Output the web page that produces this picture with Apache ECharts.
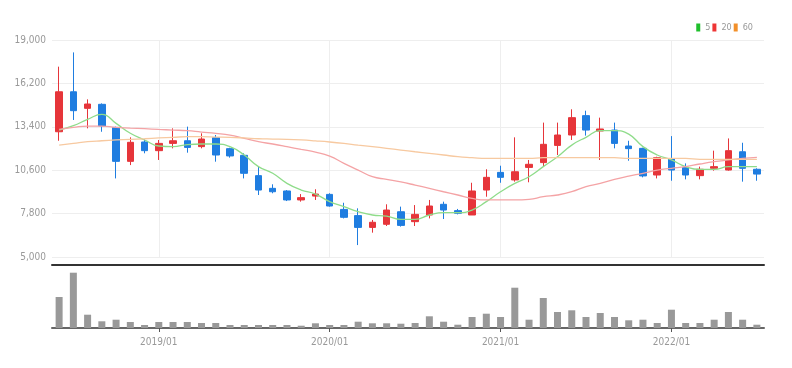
<!DOCTYPE html>
<html>
<head>
<meta charset="utf-8">
<script src="https://cdn.jsdelivr.net/npm/echarts@6/dist/echarts.min.js"></script>
<style>
  html, body { margin: 0; padding: 0; background: #fff; }
  #main { width: 792px; height: 368px; }
</style>
</head>
<body>
<div id="main"></div>
<script>
// monthly candles 2018/06 ~ 2022/07
var months = [
  '2018/06', '2018/07', '2018/08', '2018/09', '2018/10', '2018/11', '2018/12',
  '2019/01', '2019/02', '2019/03', '2019/04', '2019/05', '2019/06', '2019/07', '2019/08', '2019/09', '2019/10', '2019/11', '2019/12',
  '2020/01', '2020/02', '2020/03', '2020/04', '2020/05', '2020/06', '2020/07', '2020/08', '2020/09', '2020/10', '2020/11', '2020/12',
  '2021/01', '2021/02', '2021/03', '2021/04', '2021/05', '2021/06', '2021/07', '2021/08', '2021/09', '2021/10', '2021/11', '2021/12',
  '2022/01', '2022/02', '2022/03', '2022/04', '2022/05', '2022/06', '2022/07'
]
var opens  = [13080, 15660, 14590, 14850, 13360, 11170, 12420, 11860, 12330, 12500, 12120, 12700, 11990, 11560, 10250, 9430, 9260, 8680, 8930, 9040, 8070, 7670, 6910, 7110, 7920, 7280, 7710, 8400, 7990, 7710, 9320, 10460, 9970, 10780, 11090, 12200, 12870, 14120, 13130, 13190, 12160, 12010, 10290, 11320, 10780, 10250, 10720, 10610, 11790, 10660]
var closes = [15660, 14440, 14870, 13450, 11170, 12400, 11860, 12330, 12500, 12070, 12610, 11580, 11520, 10400, 9320, 9210, 8680, 8830, 9060, 8290, 7560, 6910, 7240, 8030, 7040, 7750, 8290, 8030, 7820, 9260, 10140, 10140, 10500, 10980, 12270, 12870, 13990, 13190, 13260, 12330, 11990, 10230, 11410, 10610, 10290, 10660, 10830, 11860, 10720, 10350]
var lows   = [12500, 13840, 13300, 13080, 10070, 10930, 11690, 11260, 12010, 11730, 12010, 11150, 11410, 10070, 9000, 9110, 8610, 8570, 8680, 8250, 7490, 5770, 6570, 7000, 6960, 7000, 7490, 7450, 7750, 7710, 8890, 9790, 9860, 9820, 10830, 11580, 12550, 12830, 11260, 12010, 11210, 10140, 10070, 9920, 10010, 10010, 10570, 10570, 9860, 9920]
var highs  = [17280, 18200, 15170, 14910, 13410, 12720, 12590, 12550, 13300, 13410, 12980, 12870, 12050, 11690, 10830, 9690, 9320, 9060, 9370, 9110, 8500, 8140, 7390, 8400, 8250, 8350, 8680, 8570, 8100, 9790, 10660, 10890, 12720, 11260, 13670, 13670, 14530, 14440, 13990, 13670, 12500, 12050, 11470, 12800, 11040, 10830, 11860, 12650, 12370, 10720]

var ma5  = [13190, 13470, 13880, 14200, 13620, 12980, 12550, 12160, 12120, 12250, 12290, 12290, 12120, 11580, 10830, 10400, 9750, 9320, 9060, 8570, 8250, 7920, 7710, 7640, 7430, 7430, 7710, 7860, 7860, 8030, 8570, 9210, 9750, 10180, 10830, 11470, 12220, 12720, 13150, 13150, 12930, 12120, 11580, 11260, 10830, 10650, 10650, 10830, 10830, 10830]
var ma20 = [13230, 13360, 13450, 13450, 13360, 13320, 13280, 13230, 13190, 13150, 13060, 12980, 12870, 12650, 12440, 12290, 12120, 11940, 11770, 11510, 11040, 10610, 10180, 10010, 9840, 9640, 9430, 9210, 9000, 8780, 8680, 8680, 8680, 8720, 8890, 9000, 9210, 9540, 9750, 10010, 10220, 10400, 10610, 10720, 10830, 11000, 11150, 11260, 11360, 11430]
var ma60 = [12220, 12330, 12440, 12500, 12550, 12590, 12630, 12680, 12720, 12760, 12760, 12740, 12720, 12680, 12630, 12610, 12590, 12550, 12490, 12420, 12330, 12220, 12120, 12010, 11900, 11790, 11690, 11580, 11470, 11410, 11360, 11360, 11360, 11360, 11410, 11410, 11410, 11410, 11410, 11410, 11360, 11360, 11360, 11360, 11360, 11300, 11300, 11300, 11300, 11300]

// volume (thousand shares)
var volumes = [310, 553, 133, 67, 83, 60, 30, 60, 60, 60, 50, 50, 30, 30, 30, 30, 30, 23, 47, 30, 30, 63, 47, 47, 43, 50, 117, 63, 33, 110, 143, 110, 403, 83, 300, 160, 177, 110, 150, 110, 77, 83, 50, 183, 50, 50, 83, 160, 83, 33]

var yTicks = [5000, 7800, 10600, 13400, 16200, 19000]

var upColor = '#e6353a'
var downColor = '#1f7de0'
var fontName = "'Liberation Sans Narrow', 'DejaVu Sans Condensed', 'Roboto Condensed', 'Liberation Sans', sans-serif"

var candles = months.map(function (m, i) {
  return [opens[i], closes[i], lows[i], highs[i]]
})

function isJan(idx, val) {
  return val.slice(5) === '01'
}

var myChart = echarts.init(document.getElementById('main'))
myChart.setOption({
  animation: false,
  backgroundColor: '#fff',
  textStyle: { fontFamily: fontName },
  legend: {
    top: 18,
    right: 34,
    itemWidth: 4,
    itemHeight: 8,
    itemGap: 2,
    icon: 'rect',
    textStyle: { color: '#999', fontSize: 9, fontFamily: fontName },
    data: [
      { name: '5', itemStyle: { color: '#1fbf2c', opacity: 1 } },
      { name: '20', itemStyle: { color: '#ee3535', opacity: 1 } },
      { name: '60', itemStyle: { color: '#f2902a', opacity: 1 } }
    ]
  },
  grid: [
    { left: 52, right: 28, top: 40, height: 217 },
    { left: 52, right: 28, top: 270, height: 58 }
  ],
  xAxis: [
    {
      type: 'category',
      gridIndex: 0,
      data: months,
      boundaryGap: true,
      offset: 8,
      axisLine: { show: true, lineStyle: { color: '#333', width: 2 } },
      axisTick: { show: false },
      axisLabel: { show: false },
      splitLine: {
        show: true,
        interval: isJan,
        alignWithLabel: true,
        lineStyle: { color: '#eeeeee', width: 1 }
      }
    },
    {
      type: 'category',
      gridIndex: 1,
      data: months,
      boundaryGap: true,
      axisLine: { show: true, lineStyle: { color: '#666', width: 2 } },
      axisTick: { show: true, interval: isJan, alignWithLabel: true, length: 4, lineStyle: { color: '#555' } },
      axisLabel: { interval: isJan, color: '#999', fontSize: 10, margin: 9, fontFamily: fontName },
      splitLine: { show: false }
    }
  ],
  yAxis: [
    {
      type: 'value',
      gridIndex: 0,
      min: yTicks[0],
      max: yTicks[yTicks.length - 1],
      interval: 2800,
      axisLine: { show: false },
      axisTick: { show: false },
      axisLabel: {
        color: '#999',
        fontSize: 10,
        margin: 6,
        fontFamily: fontName,
        formatter: function (v) { return v.toLocaleString('en-US') }
      },
      splitLine: { lineStyle: { color: '#eeeeee' } }
    },
    {
      type: 'value',
      gridIndex: 1,
      min: 0,
      max: 580,
      show: false,
      splitLine: { show: false }
    }
  ],
  series: [
    {
      name: 'candle',
      type: 'candlestick',
      xAxisIndex: 0,
      yAxisIndex: 0,
      data: candles,
      barWidth: 7,
      itemStyle: {
        color: upColor,
        color0: downColor,
        borderColor: upColor,
        borderColor0: downColor,
        borderWidth: 1
      }
    },
    {
      name: '5',
      type: 'line',
      data: ma5,
      smooth: true,
      symbol: 'none',
      itemStyle: { color: '#1fbf2c' },
      lineStyle: { color: '#8fdc8a', width: 1.3 }
    },
    {
      name: '20',
      type: 'line',
      data: ma20,
      smooth: true,
      symbol: 'none',
      itemStyle: { color: '#ee3535' },
      lineStyle: { color: '#f4a3a5', width: 1.3 }
    },
    {
      name: '60',
      type: 'line',
      data: ma60,
      smooth: true,
      symbol: 'none',
      itemStyle: { color: '#f2902a' },
      lineStyle: { color: '#f7c9a0', width: 1.3 }
    },
    {
      name: 'volume',
      type: 'bar',
      xAxisIndex: 1,
      yAxisIndex: 1,
      data: volumes,
      barWidth: 7,
      itemStyle: { color: '#999999' }
    }
  ]
})
</script>
</body>
</html>
